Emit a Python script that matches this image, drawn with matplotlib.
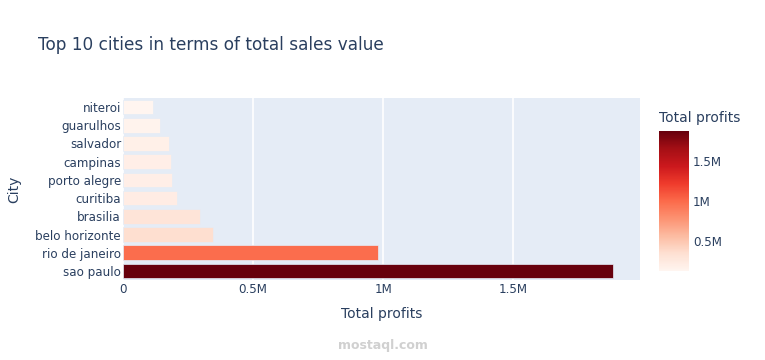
import matplotlib.pyplot as plt
import matplotlib as mpl
import numpy as np

# data
cities = ["sao paulo", "rio de janeiro", "belo horizonte", "brasilia", "curitiba",
          "porto alegre", "campinas", "salvador", "guarulhos", "niteroi"]
profits = [1885000, 981000, 346000, 296000, 208000, 188000, 185000, 177000, 142000, 115000]
xticks = [0, 500000, 1000000, 1500000]
xtick_labels = ["0", "0.5M", "1M", "1.5M"]
cbar_ticks = [500000, 1000000, 1500000]
cbar_labels = ["0.5M", "1M", "1.5M"]

text_color = "#2a3f5f"
plt.rcParams["font.family"] = ["DejaVu Sans"]

fig = plt.figure(figsize=(7.65, 3.6), dpi=100)
ax = fig.add_axes([0.161, 0.222, 0.676, 0.506])
ax.set_facecolor("#E5ECF6")

norm = mpl.colors.Normalize(vmin=min(profits), vmax=max(profits))
cmap = plt.get_cmap("Reds")
y = np.arange(len(cities))
ax.barh(y, profits, height=0.8, color=cmap(norm(profits)), edgecolor="#E5ECF6",
        linewidth=0.5, zorder=3)

ax.set_ylim(-0.5, len(cities) - 0.5)
ax.set_xlim(0, max(profits) * 1.055)
ax.set_yticks(y)
ax.set_yticklabels(cities, fontsize=8.6, color=text_color)
ax.set_xticks(xticks)
ax.set_xticklabels(xtick_labels, fontsize=8.6, color=text_color)
ax.tick_params(axis="y", length=0, pad=1.5)
ax.tick_params(axis="x", length=0, pad=2)
ax.xaxis.grid(True, color="white", linewidth=1.2, zorder=0)
for s in ax.spines.values():
    s.set_visible(False)

ax.set_xlabel("Total profits", fontsize=10, color=text_color, labelpad=8)
ax.set_ylabel("City", fontsize=10, color=text_color, labelpad=10)

fig.text(38 / 765, 1 - 45 / 360, "Top 10 cities in terms of total sales value",
         fontsize=12.2, color=text_color, va="center", ha="left")

# colorbar
cax = fig.add_axes([659 / 765, 1 - 271 / 360, 30 / 765, 140 / 360])
cb = fig.colorbar(mpl.cm.ScalarMappable(norm=norm, cmap=cmap), cax=cax)
cb.outline.set_visible(False)
cb.set_ticks(cbar_ticks)
cb.set_ticklabels(cbar_labels)
cax.tick_params(length=0, labelsize=8.6, labelcolor=text_color, pad=3)
fig.text(659 / 765, 1 - 118 / 360, "Total profits", fontsize=10, color=text_color,
         va="center", ha="left")

# watermark
fig.text(383 / 765, 1 - 345 / 360, "mostaql.com", fontsize=9, color="#d0d0d0",
         ha="center", va="center", fontweight="bold")

fig.savefig("out.png", dpi=100)
